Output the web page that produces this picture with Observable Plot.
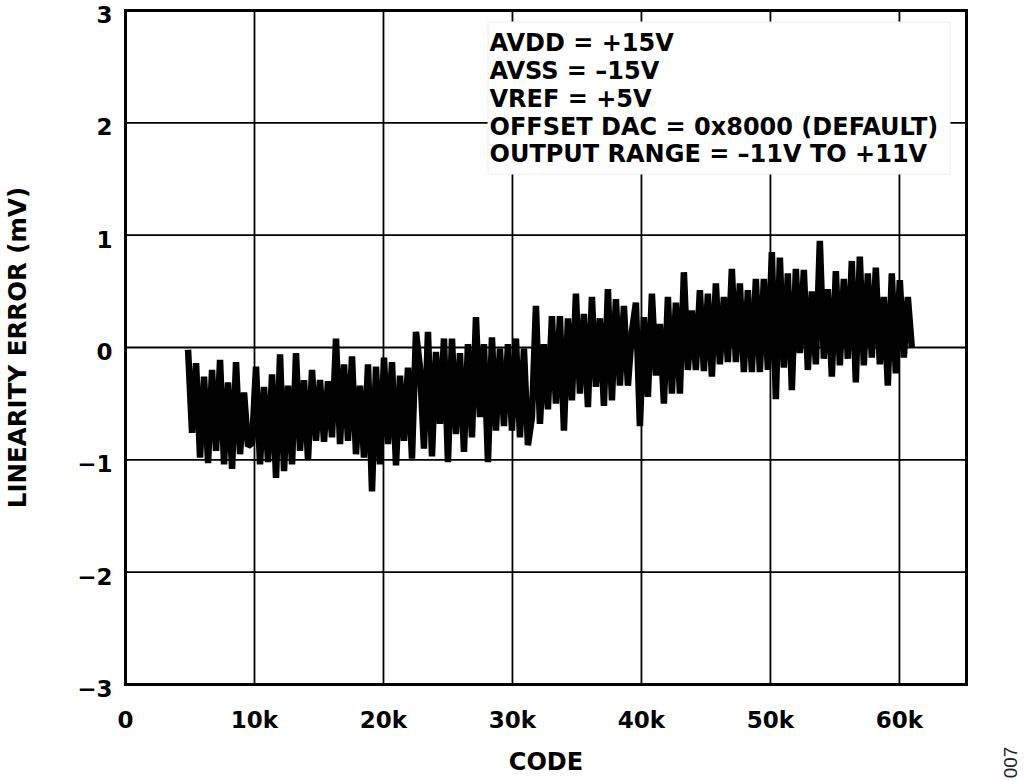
<!DOCTYPE html>
<html>
<head>
<meta charset="utf-8">
<script src="https://cdn.jsdelivr.net/npm/d3@7"></script>
<script src="https://cdn.jsdelivr.net/npm/@observablehq/plot@0.6"></script>
<style>
  html, body { margin: 0; padding: 0; background: #fff; }
  #chart svg { display: block; }
</style>
</head>
<body>
<div id="chart"></div>
<script>
// ---- data ----
const codeStart = 4850;   // first code shown
const codeStep = 310;     // code spacing between samples
const linearityError = [
  -0.02, -0.76, -0.14, -0.98, -0.26, -1.03, -0.20, -0.92, -0.11, -1.04,
  -0.31, -1.08, -0.13, -0.95, -0.40, -0.88, -0.85, -0.17, -1.04, -0.35,
  -1.02, -0.24, -1.16, -0.06, -1.10, -0.34, -1.04, -0.05, -0.92, -0.29,
  -1.00, -0.20, -0.83, -0.29, -0.84, -0.30, -0.80, 0.08, -0.86, -0.15,
  -0.83, -0.08, -0.95, -0.34, -0.98, -0.15, -1.28, -0.17, -1.04, -0.09,
  -0.86, -0.13, -1.05, -0.25, -0.83, -0.18, -0.99, 0.14, -0.18, -0.90,
  0.14, -0.97, -0.04, -0.68, 0.08, -1.02, 0.08, -0.77, -0.05, -0.93,
  0.03, -0.80, 0.27, -0.62, 0.03, -1.02, 0.09, -0.74, -0.01, -0.70,
  0.03, -0.74, 0.08, -0.80, -0.01, -0.87, -0.62, 0.37, -0.68, 0.03,
  -0.55, 0.28, -0.50, 0.28, -0.74, 0.26, -0.47, 0.48, -0.41, 0.30,
  -0.53, 0.45, -0.35, 0.26, -0.52, 0.52, -0.47, 0.43, -0.34, 0.37,
  -0.34, 0.14, 0.40, -0.70, 0.27, -0.44, 0.48, -0.25, 0.21, -0.50,
  0.45, -0.41, 0.40, -0.41, 0.67, -0.20, 0.33, -0.20, 0.51, -0.21,
  0.48, -0.26, 0.57, -0.15, 0.45, -0.13, 0.70, -0.13, 0.57, -0.22,
  0.51, -0.22, 0.61, -0.22, 0.61, -0.20, 0.85, -0.46, 0.80, -0.18,
  0.66, -0.38, 0.70, -0.05, 0.69, -0.20, 0.50, -0.15, 0.95, -0.10,
  0.52, -0.26, 0.68, -0.16, 0.61, -0.10, 0.77, -0.31, 0.81, -0.16,
  0.66, -0.09, 0.71, -0.15, 0.45, -0.34, 0.66, -0.23, 0.60, -0.09,
  0.45, 0.00
];
const xDomain = [0, 65200];
const yDomain = [-3, 3];
const xTicks = [0, 10000, 20000, 30000, 40000, 50000, 60000];
const xTickLabels = ["0", "10k", "20k", "30k", "40k", "50k", "60k"];
const yTicks = [-3, -2, -1, 0, 1, 2, 3];
const yTickLabels = ["\u22123", "\u22122", "\u22121", "0", "1", "2", "3"];
const xGrid = [10000, 20000, 30000, 40000, 50000, 60000];
const yGrid = [-2, -1, 0, 1, 2];
const infoLines = [
  "AVDD = +15V",
  "AVSS = \u201315V",
  "VREF = +5V",
  "OFFSET DAC = 0x8000 (DEFAULT)",
  "OUTPUT RANGE = \u201311V TO +11V"
];
const xLabel = "CODE";
const yLabel = "LINEARITY ERROR (mV)";
const figureId = "007";

// ---- table ----
const rows = linearityError.map((v, i) => ({code: codeStart + i * codeStep, err: v}));

const font = "'DejaVu Sans', Verdana, sans-serif";
const smallFont = "'Liberation Sans', Arial, sans-serif";

// white box behind the condition text
const infoBox = (index, scales, values, dims) => {
  const ns = "http://www.w3.org/2000/svg";
  const r = document.createElementNS(ns, "rect");
  r.setAttribute("x", dims.marginLeft + 363);
  r.setAttribute("y", dims.marginTop + 12);
  r.setAttribute("width", 462);
  r.setAttribute("height", 152);
  r.setAttribute("fill", "white");
  r.setAttribute("stroke", "#eeeeee");
  r.setAttribute("stroke-width", 1);
  return r;
};

const chart = Plot.plot({
  width: 1024,
  height: 781,
  marginLeft: 125,
  marginRight: 58,
  marginTop: 10,
  marginBottom: 97,
  style: {fontFamily: font, fontWeight: "bold", fontSize: "24px", color: "black", background: "white"},
  x: {domain: xDomain},
  y: {domain: yDomain},
  marks: [
    Plot.ruleX(xGrid, {stroke: "black", strokeWidth: 1.8}),
    Plot.ruleY(yGrid, {stroke: "black", strokeWidth: 1.8}),
    Plot.line(rows, {x: "code", y: "err", stroke: "black", strokeWidth: 6.5,
                     strokeLinejoin: "miter", strokeMiterlimit: 1, strokeLinecap: "butt"}),
    infoBox,
    Plot.text([infoLines.join("\n")], {
      frameAnchor: "top-left", textAnchor: "start", lineAnchor: "top",
      dx: 364, dy: 21.2, lineHeight: 1.155, fontSize: 24, fontWeight: "bold",
      fontFamily: font, fill: "black"
    }),
    Plot.axisX({ticks: xTicks, tickSize: 0, tickPadding: 27, label: null,
      tickFormat: d => xTickLabels[xTicks.indexOf(d)],
      fontSize: 23, fontWeight: "bold", fontFamily: font}),
    Plot.axisY({ticks: yTicks, tickSize: 0, tickPadding: 13, label: null, dy: 5,
      tickFormat: d => yTickLabels[yTicks.indexOf(d)],
      fontSize: 23, fontWeight: "bold", fontFamily: font}),
    Plot.text([xLabel], {frameAnchor: "bottom", lineAnchor: "middle", textAnchor: "middle", dy: 78,
      fontSize: 24, fontWeight: "bold", fontFamily: font}),
    Plot.text([yLabel], {frameAnchor: "left", textAnchor: "middle", lineAnchor: "middle", dx: -107, rotate: -90,
      fontSize: 24.5, fontWeight: "bold", fontFamily: font}),
    Plot.text([figureId], {frameAnchor: "bottom-right", textAnchor: "middle", lineAnchor: "middle",
      dx: 44, dy: 78, rotate: -90, fontSize: 19,
      fontWeight: "normal", fontFamily: smallFont, fill: "#222"}),
    Plot.frame({stroke: "black", strokeWidth: 3})
  ]
});
document.getElementById("chart").appendChild(chart);
</script>
</body>
</html>
